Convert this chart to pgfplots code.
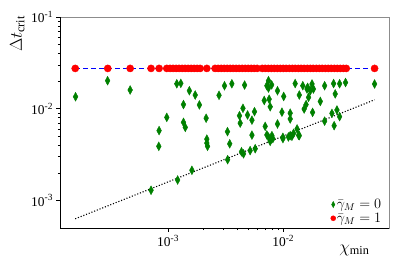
\documentclass[border=0pt]{standalone}
\usepackage{fontspec}
\setmainfont{Liberation Serif}
\usepackage{pgfplots}
\pgfplotsset{compat=1.18}
\definecolor{mgreen}{RGB}{0,128,0}
\begin{document}
\begin{tikzpicture}[x=1bp,y=1bp]
\useasboundingbox (-60bp,-38bp) rectangle (339bp,228bp);
\begin{axis}[
  at={(0,0)}, anchor=south west,
  scale only axis, width=329bp, height=211bp,
  xmode=log, ymode=log,
  xmin=1.15e-4, xmax=8.3e-2,
  ymin=5.0e-4, ymax=1e-1,
  axis line style={gray!90},
  tick align=outside, tick pos=left,
  major tick length=3.5bp, minor tick length=2bp,
  tick style={black, line width=0.5pt},
  xtick={1e-3,1e-2},
  xticklabels={10\textsuperscript{-3},10\textsuperscript{-2}},
  ytick={1e-3,1e-2,1e-1},
  yticklabels={10\textsuperscript{-3},10\textsuperscript{-2},10\textsuperscript{-1}},
  ticklabel style={font=\fontsize{13.5}{15}\selectfont},
  clip=false,
  legend style={at={(rel axis cs:0.98,0.015)}, anchor=south east, draw=none, fill=none,
    font=\fontsize{14}{15}\selectfont, row sep=1pt, inner sep=0pt,
    nodes={inner sep=1pt}},
  legend cell align=left,
  legend image post style={scale=0.7},
]
\addplot[only marks, mark=diamond*, mark size=4.4bp, color=mgreen, mark options={xscale=0.72}] coordinates {
(1.57e-4,1.35e-2) (2.98e-4,2.02e-2) (4.68e-4,1.60e-2) (9.74e-4,8.04e-3) (8.35e-4,5.77e-3)
(8.30e-4,3.89e-3) (7.11e-4,1.29e-3) (1.19e-3,1.87e-2) (1.29e-3,1.89e-2) (1.53e-3,1.57e-2)
(1.72e-3,1.41e-2) (1.36e-3,1.11e-2) (1.87e-3,1.10e-2) (3.09e-3,1.78e-2) (3.58e-3,1.87e-2)
(4.62e-3,1.81e-2) (2.77e-3,1.40e-2) (2.14e-3,7.88e-3) (1.36e-3,7.10e-3) (1.41e-3,6.26e-3)
(3.28e-3,5.62e-3) (4.47e-3,1.01e-2) (4.17e-3,8.39e-3) (4.90e-3,8.54e-3) (5.63e-3,9.28e-3)
(4.23e-3,6.96e-3) (5.35e-3,7.50e-3) (5.35e-3,5.15e-3) (6.97e-3,6.42e-3) (7.45e-3,2.02e-2)
(7.21e-3,1.78e-2) (7.94e-3,1.82e-2) (7.45e-3,1.68e-2) (8.92e-3,1.57e-2) (6.84e-3,1.23e-2)
(7.55e-3,1.27e-2) (7.71e-3,1.05e-2) (8.92e-3,6.82e-3) (7.21e-3,5.18e-3) (7.98e-3,5.09e-3)
(2.17e-3,4.66e-3) (2.17e-3,4.22e-3) (2.20e-3,3.89e-3) (3.43e-3,4.14e-3) (4.34e-3,3.39e-3)
(4.52e-3,3.22e-3) (5.16e-3,3.49e-3) (5.71e-3,3.66e-3) (3.29e-3,2.78e-3) (1.61e-3,2.13e-3)
(1.21e-3,1.67e-3) (7.45e-3,4.90e-3) (8.13e-3,4.72e-3) (9.94e-3,4.72e-3) (1.11e-2,4.92e-3)
(1.19e-2,5.00e-3) (1.36e-2,5.13e-3) (1.27e-2,1.88e-2) (1.48e-2,1.78e-2) (1.63e-2,1.71e-2)
(1.78e-2,1.86e-2) (1.83e-2,1.64e-2) (1.72e-2,1.57e-2) (1.61e-2,1.64e-2) (2.29e-2,1.78e-2)
(2.74e-2,1.88e-2) (3.09e-2,1.87e-2) (3.48e-2,1.93e-2) (6.22e-2,1.86e-2) (1.01e-2,1.36e-2)
(1.38e-2,1.41e-2) (1.66e-2,1.33e-2) (2.83e-2,1.45e-2) (2.10e-2,1.20e-2) (1.58e-2,1.11e-2)
(1.52e-2,9.92e-3) (1.80e-2,9.12e-3) (9.75e-3,9.16e-3) (1.15e-2,8.94e-3) (1.15e-2,7.73e-3)
(2.65e-2,8.89e-3) (2.93e-2,9.68e-3) (3.09e-2,8.19e-3) (2.29e-2,7.32e-3) (2.77e-2,6.53e-3)
(1.32e-2,6.02e-3) (1.23e-2,5.39e-3) (1.15e-2,5.09e-3) (9.94e-3,4.88e-3) (1.38e-2,5.09e-3)
(7.71e-3,4.41e-3)
};
\addlegendentry{$\bar{\gamma}_M=0$}
\addplot[blue, line width=0.9pt, dash pattern=on 5bp off 3bp, forget plot] coordinates {(1.56e-4,2.75e-2) (6.22e-2,2.75e-2)};
\addplot[only marks, mark=*, mark size=3.6bp, color=red] coordinates {
(1.56e-4,2.75e-2) (2.99e-4,2.75e-2) (4.68e-4,2.75e-2) (7.11e-4,2.75e-2) (8.35e-4,2.75e-2)
(9.74e-4,2.75e-2) (1.04e-3,2.75e-2) (1.105e-3,2.75e-2) (1.174e-3,2.75e-2) (1.246e-3,2.75e-2)
(1.324e-3,2.75e-2) (1.405e-3,2.75e-2) (1.492e-3,2.75e-2) (1.585e-3,2.75e-2) (1.683e-3,2.75e-2)
(1.787e-3,2.75e-2) (1.898e-3,2.75e-2) (2.17e-3,2.75e-2) (2.56e-3,2.75e-2) (2.72e-3,2.75e-2)
(2.89e-3,2.75e-2) (3.07e-3,2.75e-2) (3.26e-3,2.75e-2) (3.46e-3,2.75e-2) (3.67e-3,2.75e-2)
(3.90e-3,2.75e-2) (4.14e-3,2.75e-2) (4.40e-3,2.75e-2) (4.67e-3,2.75e-2) (4.96e-3,2.75e-2)
(5.27e-3,2.75e-2) (5.59e-3,2.75e-2) (5.94e-3,2.75e-2) (6.57e-3,2.75e-2) (6.97e-3,2.75e-2)
(7.41e-3,2.75e-2) (7.87e-3,2.75e-2) (8.35e-3,2.75e-2) (8.87e-3,2.75e-2) (9.42e-3,2.75e-2)
(1.00e-2,2.75e-2) (1.06e-2,2.75e-2) (1.13e-2,2.75e-2) (1.20e-2,2.75e-2) (1.27e-2,2.75e-2)
(1.35e-2,2.75e-2) (1.43e-2,2.75e-2) (1.52e-2,2.75e-2) (1.62e-2,2.75e-2) (1.72e-2,2.75e-2)
(1.82e-2,2.75e-2) (1.94e-2,2.75e-2) (2.06e-2,2.75e-2) (2.18e-2,2.75e-2) (2.32e-2,2.75e-2)
(2.46e-2,2.75e-2) (2.61e-2,2.75e-2) (2.78e-2,2.75e-2) (2.95e-2,2.75e-2) (3.13e-2,2.75e-2)
(3.33e-2,2.75e-2) (3.53e-2,2.75e-2) (6.22e-2,2.75e-2)
};
\addlegendentry{$\bar{\gamma}_M=1$}
\addplot[black, line width=1.1pt, dash pattern=on 1.1bp off 1.8bp, forget plot] coordinates {(1.56e-4,6.3e-4) (6.22e-2,1.25e-2)};
\draw[black, line width=0.5pt] (rel axis cs:0,1) -- (rel axis cs:0,0) -- (rel axis cs:1,0);
\node[rotate=90, font=\fontsize{17.5}{19}\selectfont] at (axis description cs:-0.13,0.92) {$\Delta t_{\mathrm{crit}}$};
\node[font=\fontsize{17.5}{19}\selectfont] at (axis description cs:0.895,-0.105) {$\chi_{\mathrm{min}}$};
\end{axis}
\end{tikzpicture}
\end{document}
